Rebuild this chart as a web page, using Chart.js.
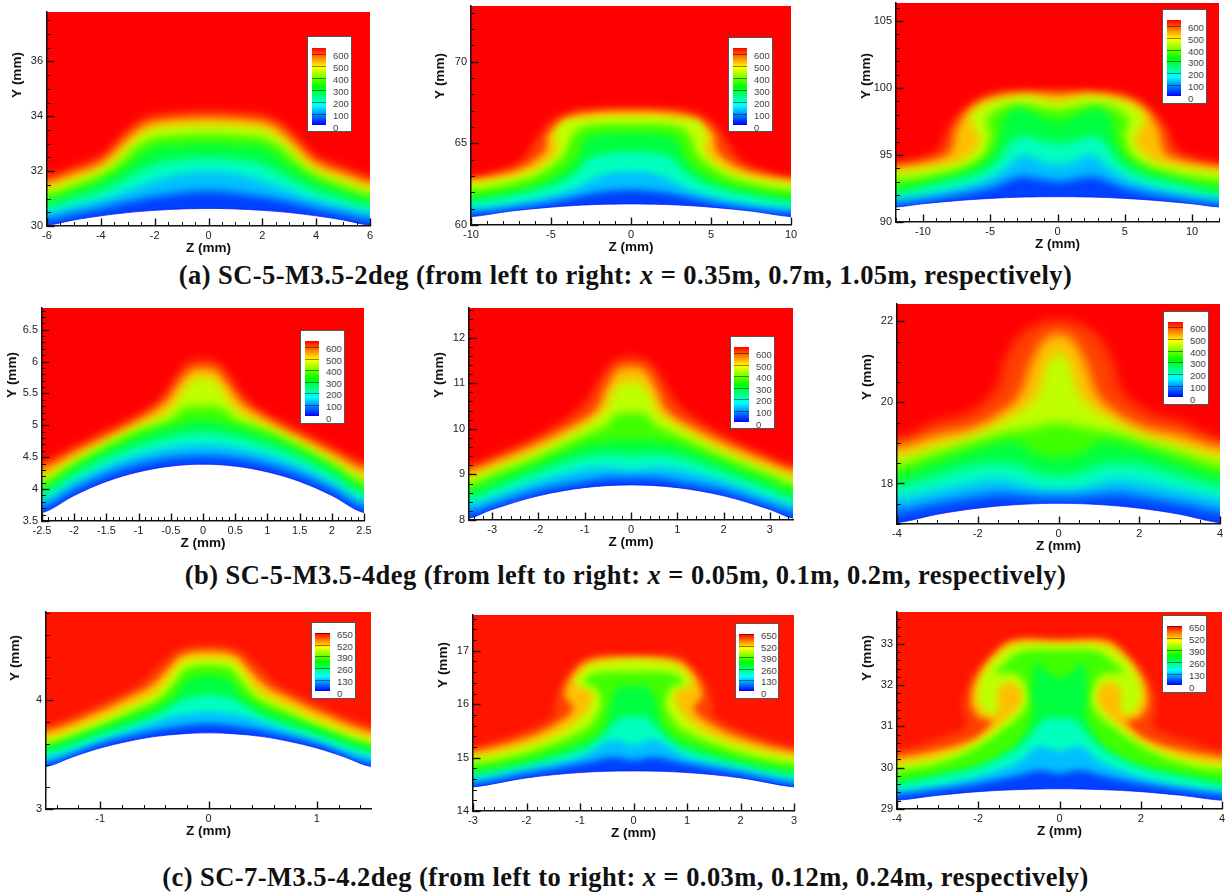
<!DOCTYPE html>
<html>
<head>
<meta charset="utf-8">
<title>Temperature contours</title>
<script src="https://cdn.jsdelivr.net/npm/chart.js@4/dist/chart.umd.min.js"></script>
<style>
  html, body { margin: 0; padding: 0; background: #fff; width: 1228px; height: 894px; overflow: hidden; }
  canvas { position: absolute; }
  .caption { position: absolute; left: 0; width: 1251px; text-align: center; white-space: nowrap;
    font: bold 26.5px "Liberation Serif", serif; letter-spacing: 0.45px; color: #111; line-height: 28px; }
  .legend { position: absolute; background: #fff; border: 1px solid #555; box-sizing: border-box; }
  .legend .bar { position: absolute;
    background: linear-gradient(to top, #0000ff 0%, #00ffff 25%, #00ff00 50%, #ffff00 75%, #ff0000 100%); }
  .legend .mark { position: absolute; left: 0; right: 0; height: 1px; background: rgba(0,0,0,.45); }
  .legend span { position: absolute; font: 9.5px "Liberation Sans", sans-serif; color: #444; line-height: 10px; }
</style>
</head>
<body>
<script>
// colour bands, lowest first. first curve of every panel is the wall
const levelValues = [0, 84, 167, 251, 335, 418, 502, 586, 670];
const levelColors = ['#ffffff', 'rgb(0,64,255)', 'rgb(0,191,255)', 'rgb(0,255,191)', 'rgb(0,255,64)',
    'rgb(64,255,0)', 'rgb(191,255,0)', 'rgb(255,191,0)', 'rgb(255,64,0)'];

const legendTicksAB = [600, 500, 400, 300, 200, 100, 0];
const legendTicksC = [650, 520, 390, 260, 130, 0];

const captionA = ['(a) SC-5-M3.5-2deg (from left to right: ', ' = 0.35m, 0.7m, 1.05m, respectively)'];
const captionB = ['(b) SC-5-M3.5-4deg (from left to right: ', ' = 0.05m, 0.1m, 0.2m, respectively)'];
const captionC = ['(c) SC-7-M3.5-4.2deg (from left to right: ', ' = 0.03m, 0.12m, 0.24m, respectively)'];

const zTicksA1 = [-6, -4, -2, 0, 2, 4, 6];
const yTicksA1 = [30, 32, 34, 36];
const zTicksA2 = [-10, -5, 0, 5, 10];
const yTicksA2 = [60, 65, 70];
const zTicksA3 = [-10, -5, 0, 5, 10];
const yTicksA3 = [90, 95, 100, 105];
const zTicksB1 = [-2.5, -2, -1.5, -1, -0.5, 0, 0.5, 1, 1.5, 2, 2.5];
const yTicksB1 = [3.5, 4, 4.5, 5, 5.5, 6, 6.5];
const zTicksB2 = [-3, -2, -1, 0, 1, 2, 3];
const yTicksB2 = [8, 9, 10, 11, 12];
const zTicksB3 = [-4, -2, 0, 2, 4];
const yTicksB3 = [18, 20, 22];
const zTicksC1 = [-1, 0, 1];
const yTicksC1 = [3, 4];
const zTicksC2 = [-3, -2, -1, 0, 1, 2, 3];
const yTicksC2 = [14, 15, 16, 17];
const zTicksC3 = [-4, -2, 0, 2, 4];
const yTicksC3 = [29, 30, 31, 32, 33];

const contoursA1 = [
    [[0,30.64],[1,30.62],[2,30.57],[3,30.49],[4,30.37],[5,30.22],[6,30.03]],
    [[0,31.28],[2,31.07],[3,30.88],[4,30.65],[5,30.45],[6,30.25]],
    [[0,31.98],[1,31.9],[2,31.65],[3,31.28],[4,30.95],[5,30.7],[6,30.46]],
    [[0,32.5],[1,32.42],[2,32.25],[3,31.75],[4,31.28],[5,30.98],[6,30.7]],
    [[0,33],[1,32.95],[2,32.85],[2.5,32.6],[3,32.2],[4,31.62],[5,31.25],[6,30.95]],
    [[0,33.35],[1,33.32],[2,33.22],[2.5,33],[3,32.6],[3.5,32.15],[4,31.85],[5,31.47],[6,31.17]],
    [[0,33.68],[1,33.66],[2,33.55],[2.5,33.3],[3,32.9],[3.5,32.4],[4,32.05],[5,31.7],[6,31.37]],
    [[0,33.93],[2,33.8],[2.5,33.6],[3,33.2],[3.5,32.72],[4,32.3],[5,31.92],[6,31.6]],
    [[0,34.2],[2,34.07],[2.5,33.9],[3,33.55],[3.5,33.05],[4,32.58],[5,32.18],[6,31.85]]
];
const contoursA2 = [
    [[0,61.29],[2,61.26],[3,61.22],[5,61.09],[7.5,60.85],[10,60.51]],
    [[0,62.15],[2,62],[3.5,61.7],[5.6,61.28],[7.7,61],[10,60.77]],
    [[0,63.27],[2,62.97],[3.5,62.25],[5.6,61.64],[7.7,61.23],[10,61.02]],
    [[0,64.5],[2,64.3],[2.7,64],[3.5,63.15],[4.5,62.6],[6,62.1],[8,61.7],[10,61.38]],
    [[0,65.62],[2,65.52],[2.9,65.2],[3.3,64.2],[4.1,63.4],[5.6,62.55],[7.7,62.05],[10,61.74]],
    [[0,66.2],[2,66.15],[3.2,65.9],[3.8,65.2],[4.1,64.4],[4.7,63.8],[6,63],[8,62.45],[10,62.15]],
    [[0,66.65],[2,66.6],[3,66.48],[4.23,66.34],[4.75,65.42],[4.65,64.6],[5.17,63.89],[6.83,63.07],[10,62.56]],
    [[0,66.95],[3,66.8],[4.3,66.3],[5.2,65.5],[5.3,64.7],[5.8,64.1],[7,63.4],[8.5,63],[10,62.77]],
    [[0,67.2],[2,67.15],[3.5,67.05],[4.96,66.44],[6.1,65],[6.83,63.99],[8.3,63.37],[10,62.97]]
];
const contoursA3 = [
    [[0,91.89],[2.5,91.86],[5,91.76],[7.5,91.59],[10,91.36],[12,91.12]],
    [[0,93.03],[2.5,93.4],[3.5,93.16],[5,92.54],[8,91.92],[12,91.37]],
    [[0,94.28],[1,94.4],[2,94.9],[2.7,94.95],[3.3,94.53],[4,93.9],[5.3,93.16],[7.7,92.41],[12,91.67]],
    [[0,95.9],[1,96],[2.5,96.4],[3.3,96.14],[3.9,95.4],[4.6,94.4],[6,93.53],[9,92.79],[12,92.09]],
    [[0,97.5],[1.5,98],[3,98.5],[4,97.64],[4.3,96.14],[4.9,95.02],[6.5,93.9],[9,93.16],[12,92.54]],
    [[0,98.38],[2.3,98.76],[4,98.63],[5,98],[5.3,97.4],[5,96.64],[5.2,95.65],[5.7,94.78],[8,93.78],[12,93.16]],
    [[0,99],[2.3,99.38],[4,99.2],[5.76,98.63],[6.5,97.64],[5.76,96.14],[6.4,95.15],[7.7,94.4],[12,93.78]],
    [[0,99.5],[2.5,99.58],[4.8,99.25],[6.5,98.4],[7.6,96.77],[7.7,95.9],[8.3,94.9],[12,94.08]],
    [[0,99.83],[2.5,99.83],[4.8,99.63],[6.75,98.63],[8.2,96.9],[8.7,95.65],[9.2,95.15],[12,94.4]]
];
const contoursB1 = [
    [[0,4.39],[0.5,4.36],[1,4.27],[1.5,4.12],[2,3.9],[2.5,3.63]],
    [[0,4.52],[0.5,4.49],[1,4.39],[1.5,4.23],[2,4],[2.5,3.72]],
    [[0,4.7],[0.5,4.65],[1,4.53],[1.5,4.35],[2,4.1],[2.5,3.81]],
    [[0,4.89],[0.5,4.82],[1,4.68],[1.5,4.48],[2,4.22],[2.5,3.91]],
    [[0,5.09],[0.5,4.98],[1,4.82],[1.5,4.6],[2,4.33],[2.5,4.02]],
    [[0,5.3],[0.3,5.27],[0.5,5.1],[1,4.92],[1.5,4.68],[2,4.4],[2.5,4.1]],
    [[0,5.74],[0.15,5.72],[0.3,5.56],[0.45,5.32],[0.6,5.19],[1,4.98],[1.5,4.73],[2,4.47],[2.5,4.2]],
    [[0,5.9],[0.2,5.85],[0.4,5.61],[0.6,5.35],[1,5.08],[1.5,4.82],[2,4.57],[2.5,4.32]],
    [[0,6.04],[0.25,5.98],[0.45,5.74],[0.6,5.5],[0.8,5.3],[1,5.18],[1.5,4.92],[2,4.67],[2.5,4.43]]
];
const contoursB2 = [
    [[0,8.77],[1,8.71],[2,8.53],[3,8.23],[3.5,8.04]],
    [[0,8.93],[0.5,8.93],[1,8.85],[2,8.66],[3,8.33],[3.5,8.17]],
    [[0,9.09],[0.5,9.15],[1,9.12],[2,8.85],[3,8.48],[3.5,8.33]],
    [[0,9.42],[0.5,9.45],[1,9.39],[2,9.05],[3,8.66],[3.5,8.47]],
    [[0,9.75],[0.5,9.72],[1,9.64],[2,9.24],[3,8.84],[3.5,8.64]],
    [[0,10.35],[0.35,10.3],[0.5,10.1],[1,9.86],[2,9.39],[3,8.99],[3.5,8.79]],
    [[0,11.05],[0.2,11],[0.4,10.77],[0.55,10.41],[0.8,10.2],[1,10.06],[2,9.53],[3,9.13],[3.5,8.95]],
    [[0,11.36],[0.3,11.28],[0.55,10.85],[0.75,10.41],[1.1,10.15],[2,9.69],[3,9.26],[3.5,9.08]],
    [[0,11.58],[0.4,11.47],[0.65,11.14],[0.95,10.63],[1.2,10.37],[2,9.86],[3,9.39],[3.5,9.2]]
];
const contoursB3 = [
    [[0,17.51],[1,17.48],[2,17.39],[3,17.24],[4,17.03]],
    [[0,17.67],[0.5,17.68],[1,17.72],[1.5,17.75],[2,17.68],[3,17.52],[4,17.32]],
    [[0,17.84],[0.5,17.87],[1,18],[1.4,18.1],[2,18.04],[3,17.83],[4,17.63]],
    [[0,18.2],[0.5,18.24],[1,18.45],[1.5,18.48],[2,18.47],[3,18.2],[4,17.93]],
    [[0,18.65],[0.5,18.72],[1,19],[1.2,19.05],[2,18.86],[3,18.53],[4,18.2]],
    [[0,19.5],[0.3,19.45],[0.8,19.35],[1.2,19.28],[2,19.05],[3,18.75],[4,18.45]],
    [[0,21.2],[0.2,21.1],[0.35,20.7],[0.5,20.2],[0.7,19.97],[1,19.76],[2,19.23],[3,18.94],[4,18.67]],
    [[0,21.7],[0.3,21.6],[0.55,21.25],[0.75,20.8],[0.88,20.38],[1.15,19.97],[2,19.43],[3,19.2],[4,18.9]],
    [[0,22.04],[0.4,21.99],[1,21.61],[1.4,20.87],[1.45,20.55],[1.7,20.14],[2.3,19.73],[3,19.55],[4,19.1]]
];
const contoursC1 = [
    [[0,3.7],[0.25,3.69],[0.5,3.665],[0.75,3.62],[1,3.56],[1.25,3.48],[1.5,3.39]],
    [[0,3.78],[0.25,3.76],[0.5,3.72],[1,3.6],[1.5,3.42]],
    [[0,3.89],[0.25,3.87],[0.5,3.8],[1,3.63],[1.5,3.47]],
    [[0,4.05],[0.25,4],[0.5,3.85],[1,3.68],[1.5,3.52]],
    [[0,4.23],[0.2,4.18],[0.3,4.05],[0.5,3.92],[0.75,3.83],[1,3.74],[1.5,3.57]],
    [[0,4.32],[0.2,4.29],[0.3,4.18],[0.45,4.02],[0.75,3.88],[1,3.77],[1.5,3.6]],
    [[0,4.38],[0.2,4.37],[0.3,4.29],[0.4,4.15],[0.5,4.06],[0.75,3.94],[1,3.83],[1.5,3.65]],
    [[0,4.45],[0.25,4.41],[0.38,4.28],[0.55,4.12],[0.75,4.02],[1,3.9],[1.5,3.71]],
    [[0,4.51],[0.25,4.48],[0.4,4.37],[0.55,4.23],[0.65,4.14],[1,3.97],[1.5,3.77]]
];
const contoursC2 = [
    [[0,14.75],[1,14.72],[2,14.62],[3,14.45]],
    [[0,14.95],[0.4,15.01],[0.8,14.92],[2,14.7],[3,14.51]],
    [[0,15.23],[0.4,15.33],[1,15.01],[2,14.78],[3,14.58]],
    [[0,15.76],[0.25,15.75],[0.45,15.55],[0.7,15.3],[1,15.14],[2,14.86],[3,14.67]],
    [[0,16.33],[0.25,16.33],[0.4,16.1],[0.5,15.7],[0.65,15.45],[1,15.26],[2,14.95],[3,14.76]],
    [[0,16.6],[0.5,16.6],[0.8,16.54],[0.92,16.39],[0.7,16.31],[0.6,16.01],[0.72,15.73],[0.95,15.5],[2,15.09],[3,14.89]],
    [[0,16.83],[0.5,16.79],[0.81,16.73],[1.09,16.45],[1.03,16.31],[0.81,16.25],[0.78,16.08],[0.94,15.79],[1.37,15.48],[2,15.23],[3,15.01]],
    [[0,16.88],[0.85,16.8],[1.2,16.45],[1.28,16.14],[1.12,15.92],[1.43,15.64],[2,15.37],[3,15.11]],
    [[0,16.92],[0.87,16.88],[1.31,16.45],[1.48,16.01],[1.5,15.79],[2,15.51],[3,15.2]]
];
const contoursC3 = [
    [[0,29.49],[1,29.47],[2,29.42],[3,29.33],[4,29.21]],
    [[0,29.86],[0.5,29.94],[1,29.82],[2,29.62],[3,29.47],[4,29.35]],
    [[0,30.4],[0.5,30.52],[1,30.15],[2,29.78],[3,29.55],[4,29.42]],
    [[0,31.2],[0.3,31.2],[0.5,31.05],[0.7,30.8],[1.1,30.43],[2.09,29.98],[3,29.78],[4,29.59]],
    [[0,32.15],[0.4,32.4],[0.6,32.55],[0.68,31.8],[0.65,31.32],[0.85,30.83],[1.3,30.38],[2,30.06],[3,29.86],[4,29.7]],
    [[0,32.85],[0.94,32.81],[1.35,32.53],[1.6,32.29],[1.44,32.29],[1.03,32.25],[0.78,31.8],[0.86,31.4],[1.35,30.95],[2.09,30.47],[3,30.1],[4,29.94]],
    [[0,32.98],[1,32.98],[1.5,32.73],[1.89,32.25],[2.01,31.72],[1.85,31.36],[1.6,31.28],[1.5,31.48],[1.52,31.8],[1.35,32.04],[1.07,32],[0.93,31.72],[1.04,31.44],[1.44,31.07],[2.09,30.59],[3,30.26],[4,30.09]],
    [[0,33.06],[1.15,33.06],[1.6,32.73],[2.05,32.13],[2.17,31.56],[1.93,31.19],[1.64,31.15],[2.09,30.71],[3,30.43],[4,30.26]],
    [[0,33.15],[1.1,33.14],[1.72,32.77],[2.17,32.2],[2.38,31.56],[2.3,31.07],[2.34,30.95],[3,30.71],[4,30.43]]
];

const panels = [
    { contours: contoursA1, zTicks: zTicksA1, yTicks: yTicksA1, zMax: 6, yMin: 30, yMax: 37.8, zMinor: 0.5, yMinor: 0.5, blur: 4,
      box: [47, 370, 12, 226], yTitle: [17, 75], legend: [307, 36, 352, 132, 311, 325, 47, 124, 55], red: '#ff0000', ticksL: legendTicksAB },
    { contours: contoursA2, zTicks: zTicksA2, yTicks: yTicksA2, zMax: 10, yMin: 60, yMax: 73.4, zMinor: 1, yMinor: 1, blur: 3.5,
      box: [471, 791, 6, 225], yTitle: [440, 76], legend: [728, 37, 773, 132, 732, 746, 47, 124, 55], red: '#ff0000', ticksL: legendTicksAB },
    { contours: contoursA3, zTicks: zTicksA3, yTicks: yTicksA3, zMax: 12, yMin: 90, yMax: 106.35, zMinor: 1, yMinor: 1, blur: 4,
      box: [896, 1219, 3, 222], yTitle: [866, 76], legend: [1162, 9, 1207, 104, 1166, 1180, 19, 95, 27], red: '#ff0000', ticksL: legendTicksAB },
    { contours: contoursB1, zTicks: zTicksB1, yTicks: yTicksB1, zMax: 2.5, yMin: 3.5, yMax: 6.84, zMinor: 0.1, yMinor: 0.1, blur: 4,
      box: [42, 364, 308, 521], yTitle: [12, 375], legend: [300, 330, 345, 424, 304, 318, 340, 415, 348], red: '#ff0000', ticksL: legendTicksAB },
    { contours: contoursB2, zTicks: zTicksB2, yTicks: yTicksB2, zMax: 3.5, yMin: 8, yMax: 12.65, zMinor: 0.2, yMinor: 0.2, blur: 4,
      box: [469, 793, 308, 520], yTitle: [439, 375], legend: [730, 336, 775, 429, 733, 748, 346, 421, 354], red: '#ff0000', ticksL: legendTicksAB },
    { contours: contoursB3, zTicks: zTicksB3, yTicks: yTicksB3, zMax: 4, yMin: 17, yMax: 22.43, zMinor: 0.5, yMinor: 0.5, blur: 5.5,
      box: [897, 1220, 304, 524], yTitle: [867, 377], legend: [1163, 311, 1209, 405, 1167, 1182, 321, 396, 328], red: '#ff0000', ticksL: legendTicksAB },
    { contours: contoursC1, zTicks: zTicksC1, yTicks: yTicksC1, zMax: 1.5, yMin: 3, yMax: 4.81, zMinor: 0.2, yMinor: 0.2, blur: 3,
      box: [46, 371, 612, 809], yTitle: [15, 658], legend: [311, 622, 356, 699, 314, 329, 632, 690, 634], red: '#ff1400', ticksL: legendTicksC },
    { contours: contoursC2, zTicks: zTicksC2, yTicks: yTicksC2, zMax: 3, yMin: 14, yMax: 17.67, zMinor: 0.2, yMinor: 0.2, blur: 3.5,
      box: [473, 794, 615, 811], yTitle: [443, 665], legend: [735, 623, 779, 699, 738, 753, 633, 690, 635], red: '#ff1400', ticksL: legendTicksC },
    { contours: contoursC3, zTicks: zTicksC3, yTicks: yTicksC3, zMax: 4, yMin: 29, yMax: 33.77, zMinor: 0.5, yMinor: 0.2, blur: 3.5,
      box: [897, 1222, 612, 809], yTitle: [867, 658], legend: [1162, 615, 1207, 693, 1166, 1181, 625, 684, 627], red: '#ff1400', ticksL: legendTicksC }
];

const Y_AXIS_W = 40, X_AXIS_H = 30, PAD_TOP = 12, PAD_RIGHT = 12;

// mirror the half curve and close it well below and outside the plot
function closedCurve(half, p) {
    const pad = p.zMax * 0.1;
    const low = p.yMin - (p.yMax - p.yMin);
    const edgeY = half[half.length - 1][1];
    const left = half.slice(1).reverse().map(function(c) { return { x: -c[0], y: c[1] }; });
    const right = half.map(function(c) { return { x: c[0], y: c[1] }; });
    return [{ x: -p.zMax - pad, y: low }, { x: -p.zMax - 2 * pad, y: edgeY }]
        .concat(left, right, [{ x: p.zMax + 2 * pad, y: edgeY }, { x: p.zMax + pad, y: low }]);
}

// red field behind the bands, soft edges for the bands, none for the wall
const fieldPlugin = {
    id: 'field',
    beforeDatasetsDraw: function(chart, args, opts) {
        const a = chart.chartArea, ctx = chart.ctx;
        ctx.fillStyle = opts.red;
        ctx.fillRect(a.left, a.top, a.width, a.height);
        ctx.filter = 'blur(' + opts.blur + 'px)';
    },
    afterDatasetDraw: function(chart, args) {
        if (args.index === 1) chart.ctx.filter = 'none';
    },
    afterDatasetsDraw: function(chart) {
        chart.ctx.filter = 'none';
    }
};

// Tecplot style ticks pointing into the plot, with minor ticks
const inwardTicksPlugin = {
    id: 'inwardTicks',
    afterDatasetsDraw: function(chart, args, opts) {
        const ctx = chart.ctx, a = chart.chartArea;
        const xs = chart.scales.x, ys = chart.scales.y;
        ctx.save();
        ctx.strokeStyle = '#111';
        function mark(scale, step, isX) {
            for (let i = Math.ceil(scale.min / step - 1e-6); i * step <= scale.max + 1e-6; i++) {
                const px = Math.round(scale.getPixelForValue(i * step)) + 0.5;
                ctx.lineWidth = 1;
                ctx.beginPath();
                if (isX) { ctx.moveTo(px, a.bottom); ctx.lineTo(px, a.bottom - 4); }
                else { ctx.moveTo(a.left, px); ctx.lineTo(a.left + 4, px); }
                ctx.stroke();
            }
            scale.ticks.forEach(function(t) {
                const px = Math.round(scale.getPixelForValue(t.value)) + 0.5;
                ctx.lineWidth = 1.4;
                ctx.beginPath();
                if (isX) { ctx.moveTo(px, a.bottom); ctx.lineTo(px, a.bottom - 7.5); }
                else { ctx.moveTo(a.left, px); ctx.lineTo(a.left + 7.5, px); }
                ctx.stroke();
            });
        }
        mark(xs, opts.zMinor, true);
        mark(ys, opts.yMinor, false);
        ctx.restore();
    },
    afterDraw: function(chart, args, opts) {
        const ctx = chart.ctx;
        ctx.save();
        ctx.translate(opts.titleX, opts.titleY);
        ctx.rotate(-Math.PI / 2);
        ctx.font = 'bold 13.5px "Liberation Sans", sans-serif';
        ctx.fillStyle = '#111';
        ctx.textAlign = 'center';
        ctx.textBaseline = 'middle';
        ctx.fillText('Y (mm)', 0, 0);
        ctx.restore();
    }
};

function axisBase(ticks) {
    return {
        type: 'linear',
        afterBuildTicks: function(scale) {
            scale.ticks = ticks.map(function(v) { return { value: v }; });
        },
        grid: { display: true, drawOnChartArea: false, drawTicks: false },
        border: { display: true, color: '#111', width: 1.5, z: 1 },
        ticks: {
            autoSkip: false, maxRotation: 0, color: '#222',
            font: { family: '"Liberation Sans", sans-serif', size: 11 },
            callback: function(v) { return String(v); }
        }
    };
}

panels.forEach(function(p) {
    const left = p.box[0] - Y_AXIS_W, top = p.box[2] - PAD_TOP;
    const width = p.box[1] - p.box[0] + Y_AXIS_W + PAD_RIGHT;
    const height = p.box[3] - p.box[2] + PAD_TOP + X_AXIS_H;

    const canvas = document.createElement('canvas');
    canvas.width = width;
    canvas.height = height;
    canvas.style.left = left + 'px';
    canvas.style.top = top + 'px';
    document.body.appendChild(canvas);

    const datasets = p.contours.map(function(curve, i) {
        return {
            label: 'T < ' + levelValues[i],
            data: closedCurve(curve, p),
            showLine: true,
            fill: 'shape',
            backgroundColor: levelColors[i],
            borderColor: '#0a0aff',
            borderWidth: i === 0 ? 0.7 : 0,
            pointRadius: 0,
            tension: 0.35,
            capBezierPoints: false
        };
    });

    const xAxis = axisBase(p.zTicks);
    xAxis.min = -p.zMax;
    xAxis.max = p.zMax;
    xAxis.position = 'bottom';
    xAxis.ticks.padding = 3;
    xAxis.title = { display: true, text: 'Z (mm)', color: '#111', padding: { top: 0, bottom: 0 },
        font: { family: '"Liberation Sans", sans-serif', size: 13.5, weight: 'bold' } };
    xAxis.afterFit = function(s) { s.height = X_AXIS_H; };

    const yAxis = axisBase(p.yTicks);
    yAxis.min = p.yMin;
    yAxis.max = p.yMax;
    yAxis.ticks.padding = 4;
    yAxis.afterFit = function(s) { s.width = Y_AXIS_W; };

    new Chart(canvas.getContext('2d'), {
        type: 'scatter',
        data: { datasets: datasets },
        plugins: [fieldPlugin, inwardTicksPlugin],
        options: {
            responsive: false,
            animation: false,
            events: [],
            layout: { padding: { top: PAD_TOP, right: PAD_RIGHT, left: 0, bottom: 0 } },
            scales: { x: xAxis, y: yAxis },
            plugins: {
                legend: { display: false },
                tooltip: { enabled: false },
                field: { red: p.red, blur: p.blur },
                inwardTicks: { zMinor: p.zMinor, yMinor: p.yMinor,
                    titleX: p.yTitle[0] - left, titleY: p.yTitle[1] - top }
            }
        }
    });

    // colour legend box
    const L = p.legend;
    const box = document.createElement('div');
    box.className = 'legend';
    box.style.cssText = 'left:' + L[0] + 'px;top:' + L[1] + 'px;width:' + (L[2] - L[0]) + 'px;height:' + (L[3] - L[1]) + 'px';
    const bar = document.createElement('div');
    bar.className = 'bar';
    bar.style.cssText = 'left:' + (L[4] - L[0]) + 'px;top:' + (L[6] - L[1]) + 'px;width:' + (L[5] - L[4]) + 'px;height:' + (L[7] - L[6]) + 'px';
    box.appendChild(bar);
    const n = p.ticksL.length;
    const stepPx = (L[7] + 2.5 - L[8]) / (n - 1);
    p.ticksL.forEach(function(v, i) {
        const y = L[8] + i * stepPx;
        const s = document.createElement('span');
        s.textContent = v;
        s.style.left = (L[5] + 7 - L[0]) + 'px';
        s.style.top = (y - 5 - L[1]) + 'px';
        box.appendChild(s);
        if (i < n - 1) {
            const m = document.createElement('div');
            m.className = 'mark';
            m.style.top = (y - 2 - L[6]) + 'px';
            bar.appendChild(m);
        }
    });
    document.body.appendChild(box);
});

// captions under each row
[[captionA, 261], [captionB, 561], [captionC, 863]].forEach(function(c) {
    const d = document.createElement('div');
    d.className = 'caption';
    d.style.top = c[1] + 'px';
    d.appendChild(document.createTextNode(c[0][0]));
    const x = document.createElement('i');
    x.textContent = 'x';
    d.appendChild(x);
    d.appendChild(document.createTextNode(c[0][1]));
    document.body.appendChild(d);
});
</script>
</body>
</html>
